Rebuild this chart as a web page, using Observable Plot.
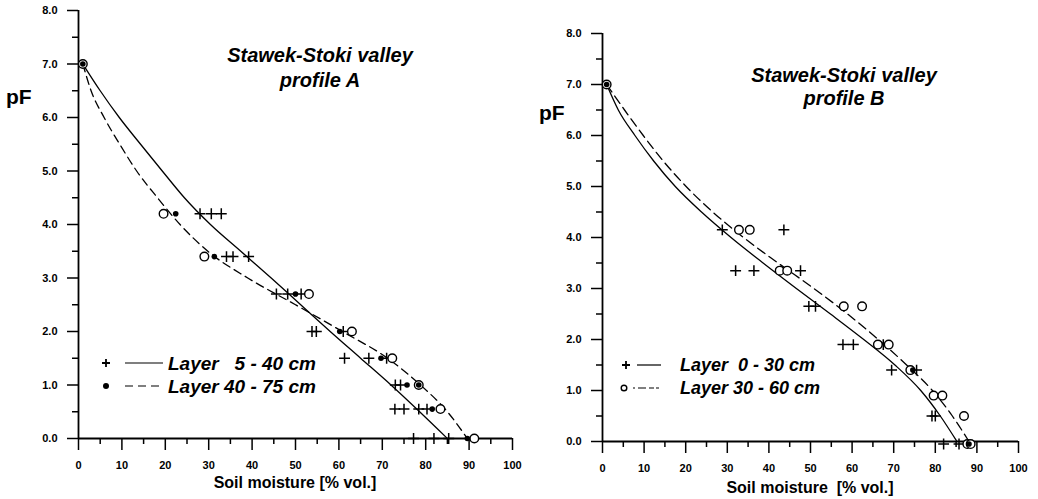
<!DOCTYPE html>
<html><head><meta charset="utf-8">
<script src="https://cdn.jsdelivr.net/npm/d3@7"></script>
<script src="https://cdn.jsdelivr.net/npm/@observablehq/plot@0.6"></script>
<style>
body{margin:0;background:#fff;}
#wrap{position:relative;width:1038px;height:499px;overflow:hidden;background:#fff;font-family:"Liberation Sans",Arial,sans-serif;color:#000;}
#wrap > svg{position:absolute;top:0;}
</style></head>
<body><div id="wrap"></div>
<script>
// ---- Profile A (left) ----
const leftPlusX = [28, 30.6, 32.9, 34.1, 35.6, 39.2, 45.6, 48.2, 51.3, 53.8, 54.8, 61, 61.3, 66.9, 71, 73, 74.2, 72.9, 75, 78.4, 80.3, 77.2, 81.9, 85.3];
const leftPlusY = [4.2, 4.2, 4.2, 3.4, 3.4, 3.4, 2.7, 2.7, 2.7, 2.0, 2.0, 2.0, 1.5, 1.5, 1.5, 1.0, 1.0, 0.55, 0.55, 0.55, 0.55, 0, 0, 0];
const leftDotX = [1, 22.4, 31.3, 50, 60.2, 69.7, 75.7, 78.4, 81.5, 89.6];
const leftDotY = [7, 4.2, 3.4, 2.7, 2.0, 1.5, 1.0, 1.0, 0.55, 0];
const leftCircleX = [1, 19.6, 29, 53.1, 63, 72.3, 78.4, 83.4, 91.2];
const leftCircleY = [7, 4.2, 3.4, 2.7, 2.0, 1.5, 1.0, 0.55, 0];
const leftSolidX = [1, 5.0, 9.4, 14.3, 19.3, 24.4, 30.4, 37.4, 44.4, 51.2, 58, 65, 72, 78.6, 85];
const leftSolidY = [7, 6.5, 6, 5.5, 5, 4.5, 4, 3.5, 3, 2.5, 2, 1.5, 1, 0.5, 0];
const leftDashX = [1, 2.9, 5.9, 9.5, 13.4, 18.2, 23.4, 29.8, 39, 50, 60.8, 71.2, 78.8, 85, 89.6];
const leftDashY = [7, 6.5, 6, 5.5, 5, 4.5, 4, 3.5, 3, 2.5, 2, 1.5, 1, 0.5, 0];

// ---- Profile B (right) ----
const rightPlusX = [28.8, 43.6, 32, 36.4, 47.6, 49.6, 51.2, 57.8, 60.3, 67.5, 69.5, 75.5, 79.2, 80, 82, 85.7];
const rightPlusY = [4.15, 4.15, 3.35, 3.35, 3.35, 2.65, 2.65, 1.9, 1.9, 1.9, 1.4, 1.4, 0.5, 0.5, -0.05, -0.05];
const rightCircleX = [1, 32.8, 35.4, 42.6, 44.4, 58, 62.4, 66.2, 68.8, 74, 79.6, 81.7, 86.9, 87.7, 88.5];
const rightCircleY = [7, 4.15, 4.15, 3.35, 3.35, 2.65, 2.65, 1.9, 1.9, 1.4, 0.9, 0.9, 0.5, -0.05, -0.05];
const rightDotX = [1, 74.6, 88.1];
const rightDotY = [7, 1.4, -0.05];
const rightSolidX = [1, 3.8, 7.8, 12.3, 17.5, 23.8, 30.9, 38.6, 46.6, 54.8, 62.8, 70.3, 76.5, 81.2, 85.2];
const rightSolidY = [7, 6.5, 6, 5.5, 5, 4.5, 4, 3.5, 3, 2.5, 2, 1.5, 1, 0.5, 0];
const rightDashX = [1, 5.3, 9.8, 14.6, 20.1, 26.5, 33.9, 42.2, 50.8, 58.9, 66.3, 73.1, 79.3, 84.1, 88.1];
const rightDashY = [7, 6.5, 6, 5.5, 5, 4.5, 4, 3.5, 3, 2.5, 2, 1.5, 1, 0.5, 0];

const xMajor = d3.range(0, 101, 10);
const xMinor = d3.range(5, 100, 10);
const yMajor = d3.range(0, 8.01, 1);
const yMinor = d3.range(0.5, 8, 1);
const FONT = "'Liberation Sans', Arial, sans-serif";

const pts = (xs, ys) => xs.map((x, i) => ({x, y: ys[i]}));
const blank = () => "";

function panel({width, mL, mR, mT, mB, plus, dots, circles, solid, dash, dashArray}) {
  return Plot.plot({
    width, height: 499, marginLeft: mL, marginRight: mR, marginTop: mT, marginBottom: mB,
    x: {domain: [0, 100]}, y: {domain: [0, 8]},
    style: {fontFamily: FONT, fontWeight: "bold", fontSize: "11px", background: "transparent", overflow: "visible", color: "black"},
    marks: [
      Plot.axisX({ticks: xMajor, tickSize: 12, tickPadding: 11, strokeWidth: 1.5, label: null, tickFormat: d3.format("d")}),
      Plot.axisX({ticks: xMinor, tickSize: 6, tickFormat: blank, label: null, strokeWidth: 1.5}),
      Plot.axisY({ticks: yMajor, tickSize: 11, tickPadding: 10, tickFormat: d3.format(".1f"), label: null, strokeWidth: 1.5}),
      Plot.axisY({ticks: yMinor, tickSize: 6, tickFormat: blank, label: null, strokeWidth: 1.5}),
      Plot.ruleX([0], {strokeWidth: 1.8}),
      Plot.ruleY([0], {strokeWidth: 1.8}),
      Plot.line(solid, {x: "x", y: "y", curve: "monotone-x", stroke: "black", strokeWidth: 1.3}),
      Plot.line(dash, {x: "x", y: "y", curve: "monotone-x", stroke: "black", strokeWidth: 1.3, strokeDasharray: dashArray}),
      Plot.dot(plus, {x: "x", y: "y", symbol: "plus", r: 3.6, stroke: "black", strokeWidth: 1.5}),
      Plot.dot(circles, {x: "x", y: "y", r: 4.3, stroke: "black", fill: "white", strokeWidth: 1.4}),
      Plot.dot(dots, {x: "x", y: "y", r: 2.8, fill: "black"})
    ]
  });
}

const wrap = document.getElementById("wrap");
const left = panel({width: 520, mL: 78, mR: 8, mT: 10, mB: 61,
  plus: pts(leftPlusX, leftPlusY), dots: pts(leftDotX, leftDotY), circles: pts(leftCircleX, leftCircleY),
  solid: pts(leftSolidX, leftSolidY), dash: pts(leftDashX, leftDashY), dashArray: "8,5"});
left.style.left = "0px";
wrap.appendChild(left);

const right = panel({width: 518, mL: 82, mR: 20, mT: 33, mB: 58,
  plus: pts(rightPlusX, rightPlusY), dots: pts(rightDotX, rightDotY), circles: pts(rightCircleX, rightCircleY),
  solid: pts(rightSolidX, rightSolidY), dash: pts(rightDashX, rightDashY), dashArray: "9,5"});
right.style.left = "520px";
wrap.appendChild(right);

// ---- overlay: titles, pF, axis titles, legends ----
const ov = d3.select(wrap).append("svg").attr("width", 1038).attr("height", 499)
  .style("left", "0px").style("pointer-events", "none").attr("font-family", FONT).attr("font-weight", "bold");

function txt(x, y, s, size, opts = {}) {
  ov.append("text").attr("x", x).attr("y", y).attr("font-size", size)
    .attr("text-anchor", opts.anchor || "middle").attr("dominant-baseline", "central")
    .attr("font-style", opts.italic ? "italic" : "normal")
    .style("white-space", "pre").text(s);
}
// titles
txt(320, 55, "Stawek-Stoki valley", 20, {italic: true});
txt(320, 80, "profile A", 20, {italic: true});
txt(844, 75, "Stawek-Stoki valley", 20, {italic: true});
txt(844, 98, "profile B", 20, {italic: true});
// pF
txt(6, 96, "pF", 21, {anchor: "start"});
txt(539, 112, "pF", 21, {anchor: "start"});
// x titles
txt(295, 482, "Soil moisture [% vol.]", 16);
txt(810, 487, "Soil moisture  [% vol.]", 16);

function legendRow(sx, y, sym, x1, x2, dash, tx, label, size) {
  if (sym === "plus") {
    ov.append("path").attr("d", `M${sx-4},${y}H${sx+4}M${sx},${y-4}V${y+4}`).attr("stroke", "black").attr("stroke-width", 1.8);
  } else if (sym === "dot") {
    ov.append("circle").attr("cx", sx).attr("cy", y).attr("r", 3).attr("fill", "black");
  } else {
    ov.append("circle").attr("cx", sx).attr("cy", y).attr("r", 2.8).attr("fill", "none").attr("stroke", "black").attr("stroke-width", 1.4);
  }
  ov.append("line").attr("x1", x1).attr("x2", x2).attr("y1", y).attr("y2", y)
    .attr("stroke", "black").attr("stroke-width", 1.2).attr("stroke-dasharray", dash);
  txt(tx, y, label, size, {anchor: "start", italic: true});
}
legendRow(106, 363, "plus", 125, 163, null, 168, "Layer   5 - 40 cm", 19);
legendRow(106, 386, "dot", 125, 163, "8,5", 168, "Layer 40 - 75 cm", 19);
legendRow(626, 365, "plus", 637, 661, null, 680, "Layer  0 - 30 cm", 18);
legendRow(624, 388, "circle", 633, 661, "2,3,8,3,5", 680, "Layer 30 - 60 cm", 18);
</script>
</body></html>
